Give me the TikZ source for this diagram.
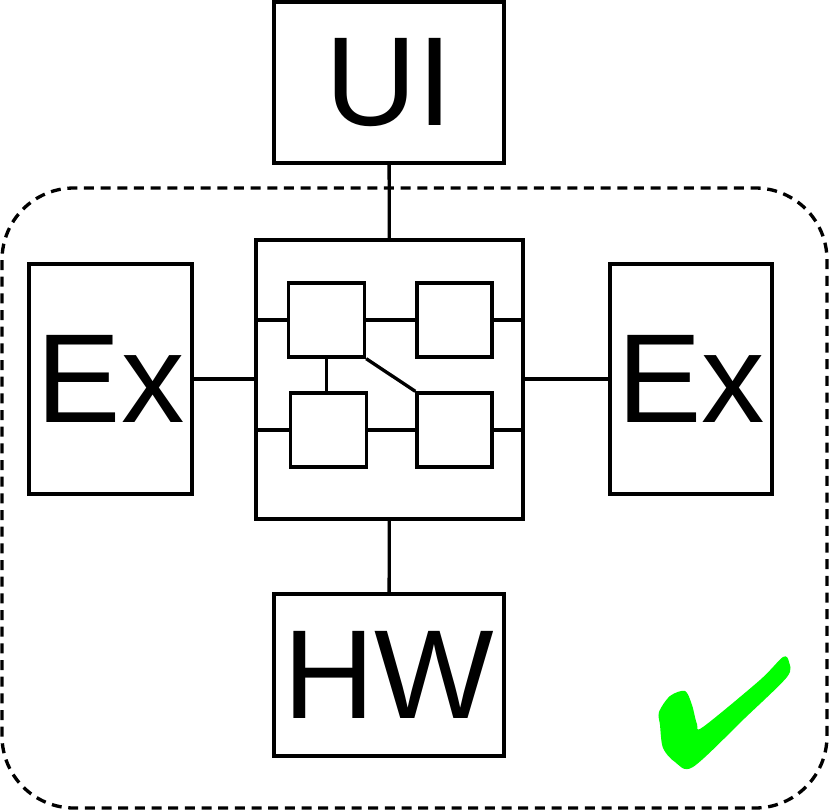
\documentclass[tikz,border=0pt]{standalone}
\usepackage{fontspec}
\setmainfont{Liberation Sans}
\usepackage{tikz}

\begin{document}
\begin{tikzpicture}[x=0.75pt, y=-0.75pt, line width=2.5pt,
    bigbox/.style={draw, inner sep=0pt, font=\fontsize{95}{100}\selectfont},
    smallbox/.style={draw, inner sep=0pt, minimum width=57pt, minimum height=55.5pt}]
      \useasboundingbox (0,0) rectangle (829,810);
      % dashed area
      \draw[dashed, dash pattern=on 7.5pt off 5pt, rounded corners=54pt] (2,188) rectangle (827,808);
      % outer parts
      \node[bigbox, minimum width=172.5pt, minimum height=120.75pt] (ui)  at (389,82.5) {UI};
      \node[bigbox, minimum width=122.25pt, minimum height=172.5pt] (exl) at (110.5,379) {Ex};
      \node[bigbox, minimum width=121.5pt, minimum height=172.5pt]  (exr) at (691,379) {Ex};
      \node[bigbox, minimum width=172.5pt, minimum height=121.5pt]  (hw)  at (389,675) {HW};
      \node[draw, minimum width=200.25pt, minimum height=209.25pt] (core) at (389.5,379.5) {};
      % inner parts
      \node[smallbox] (tl) at (326.5,320) {};
      \node[smallbox, minimum width=56.25pt] (tr) at (454.5,320) {};
      \node[smallbox] (bl) at (328.5,430) {};
      \node[smallbox, minimum width=56.25pt] (br) at (454.5,430) {};
      \draw (ui) -- (core);
      \draw (core) -- (hw);
      \draw (exl.east) -- (exl.east -| core.west);
      \draw (exr.west) -- (exr.west -| core.east);
      \draw (tl.west) -- (tl.west -| core.west);
      \draw (tr.east) -- (tr.east -| core.east);
      \draw (bl.west) -- (bl.west -| core.west);
      \draw (br.east) -- (br.east -| core.east);
      \draw (tl) -- (tr);
      \draw (bl) -- (br);
      \draw (tl.south) -- (tl.south |- bl.north);
      \draw (tl.south east) -- (br.north west);
      % tick
      \fill[green, line width=0pt] plot[smooth cycle, tension=0.5] coordinates {
        (659,712) (670,696) (685,691) (692,705) (697,724) (703,727)
        (760,680) (783,657) (789,662) (787,677) (745,718) (693,767)
        (675,762) (663,748) (660,725)};
    \end{tikzpicture}
\end{document}
